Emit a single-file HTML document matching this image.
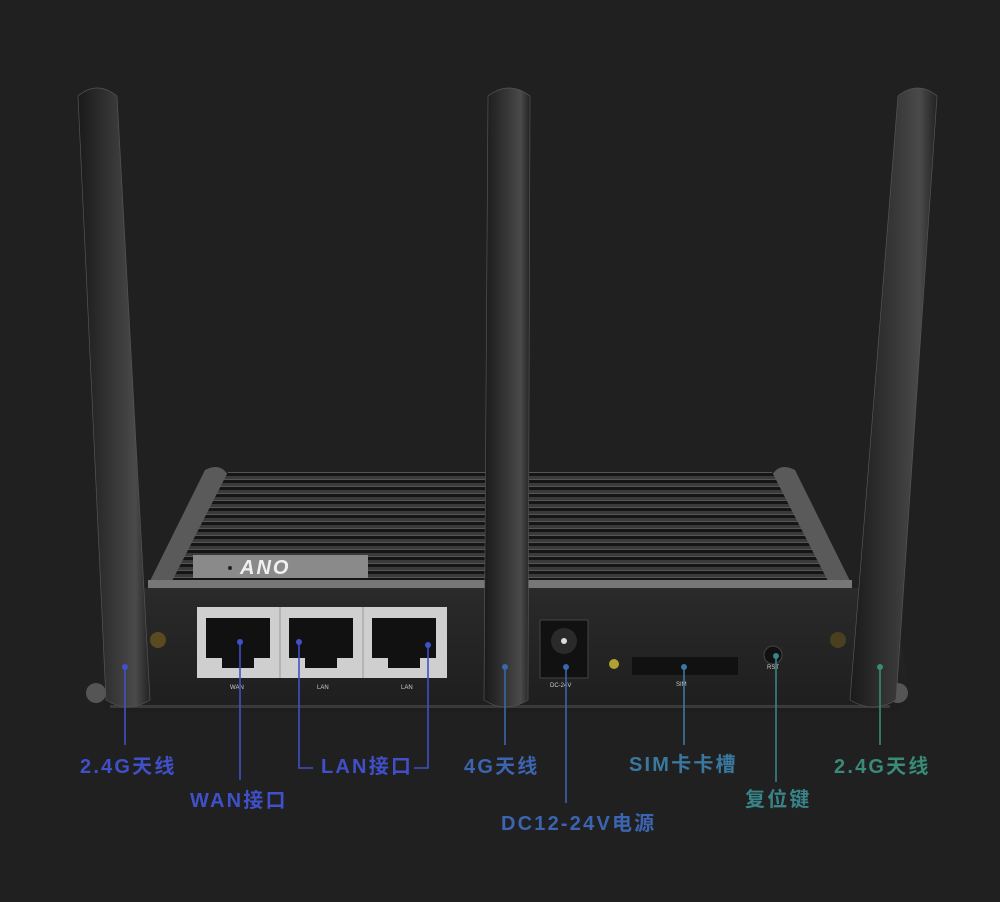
<!DOCTYPE html>
<html><head><meta charset="utf-8"><style>
html,body{margin:0;padding:0;background:#202020;}
svg{display:block}
text{font-family:"Liberation Sans","Noto Sans CJK SC",sans-serif;font-size:20px;letter-spacing:2.2px;font-weight:bold}
</style></head><body>
<svg width="1000" height="902" viewBox="0 0 1000 902" xmlns="http://www.w3.org/2000/svg">
<defs>
<linearGradient id="ant" x1="0" x2="1" y1="0" y2="0">
<stop offset="0" stop-color="#1a1a1a"/><stop offset="0.55" stop-color="#3a3a3a"/><stop offset="0.8" stop-color="#4a4a4a"/><stop offset="1" stop-color="#222"/>
</linearGradient>
<linearGradient id="panel" x1="0" x2="0" y1="0" y2="1">
<stop offset="0" stop-color="#2a2a2a"/><stop offset="1" stop-color="#1e1e1e"/>
</linearGradient>
<pattern id="ridge" width="10" height="7" patternUnits="userSpaceOnUse">
<rect width="10" height="7" fill="#151515"/><rect y="0" width="10" height="3" fill="#3a3a3a"/><rect y="3" width="10" height="1" fill="#555"/>
</pattern>
</defs>
<rect width="1000" height="902" fill="#202020"/>
<path d="M148 585 L205 470 Q220 462 228 475 L185 585 Z" fill="#5a5a5a"/>
<path d="M852 585 L795 470 Q780 462 772 475 L815 585 Z" fill="#5a5a5a"/>
<path d="M228 472 L772 472 L830 585 L170 585 Z" fill="url(#ridge)"/>
<rect x="193" y="555" width="175" height="23" fill="#8a8a8a"/>
<text x="240" y="574" fill="#f0f0f0" style="font-size:20px;letter-spacing:2px;font-style:italic">ANO</text>
<circle cx="230" cy="568" r="2" fill="#222"/>
<rect x="148" y="580" width="704" height="8" fill="#777"/>
<path d="M110 588 L890 588 L910 690 Q910 712 885 712 L120 712 Q98 712 98 690 Z" fill="url(#panel)"/>
<rect x="110" y="705" width="780" height="3" fill="#3a3a3a"/>
<circle cx="96" cy="693" r="10" fill="#555"/><circle cx="898" cy="693" r="10" fill="#555"/>
<circle cx="158" cy="640" r="8" fill="#5a4a20"/><circle cx="838" cy="640" r="8" fill="#4a4020"/>
<rect x="197" y="607" width="250" height="71" fill="#cfcfcf"/>
<line x1="280" y1="607" x2="280" y2="678" stroke="#999"/>
<line x1="363" y1="607" x2="363" y2="678" stroke="#999"/>
<g fill="#111">
<path d="M206 618 L270 618 L270 658 L254 658 L254 668 L222 668 L222 658 L206 658 Z"/>
<path d="M289 618 L353 618 L353 658 L337 658 L337 668 L305 668 L305 658 L289 658 Z"/>
<path d="M372 618 L436 618 L436 658 L420 658 L420 668 L388 668 L388 658 L372 658 Z"/>
</g>
<g fill="#ccc">
<text x="230" y="689" style="font-size:6px;letter-spacing:0;font-weight:normal">WAN</text>
<text x="317" y="689" style="font-size:6px;letter-spacing:0;font-weight:normal">LAN</text>
<text x="401" y="689" style="font-size:6px;letter-spacing:0;font-weight:normal">LAN</text>
<text x="550" y="687" style="font-size:6px;letter-spacing:0;font-weight:normal">DC-24V</text>
<text x="676" y="686" style="font-size:6px;letter-spacing:0;font-weight:normal">SIM</text>
<text x="767" y="669" style="font-size:6px;letter-spacing:0;font-weight:normal">RST</text>
</g>
<rect x="540" y="620" width="48" height="58" fill="#111" stroke="#444"/>
<circle cx="564" cy="641" r="13" fill="#2a2a2a"/><circle cx="564" cy="641" r="3" fill="#ddd"/>
<circle cx="614" cy="664" r="5" fill="#b0a030"/>
<rect x="632" y="657" width="106" height="18" fill="#111"/>
<circle cx="773" cy="655" r="9" fill="#111" stroke="#444"/>
<path d="M78 96 Q97 80 117 96 L150 700 Q128 714 106 700 Z" fill="url(#ant)" stroke="#555" stroke-width="0.7"/>
<path d="M488 96 Q509 80 530 96 L528 700 Q506 714 484 700 Z" fill="url(#ant)" stroke="#555" stroke-width="0.7"/>
<path d="M898 96 Q918 80 937 96 L896 700 Q873 714 850 700 Z" fill="url(#ant)" stroke="#555" stroke-width="0.7"/>
<g stroke-width="1.6" fill="none">
<line x1="125" y1="667" x2="125" y2="745" stroke="#4050c8"/>
<line x1="240" y1="642" x2="240" y2="780" stroke="#4050c8"/>
<polyline points="299,642 299,768 313,768" stroke="#4050c8"/>
<polyline points="428,645 428,768 414,768" stroke="#4050c8"/>
<line x1="505" y1="667" x2="505" y2="745" stroke="#3c64b0"/>
<line x1="566" y1="667" x2="566" y2="803" stroke="#3c64b0"/>
<line x1="684" y1="667" x2="684" y2="745" stroke="#3a78a0"/>
<line x1="776" y1="656" x2="776" y2="782" stroke="#388488"/>
<line x1="880" y1="667" x2="880" y2="745" stroke="#3a8a78"/>
</g>
<g>
<circle cx="125" cy="667" r="3" fill="#4050c8"/>
<circle cx="240" cy="642" r="3" fill="#4050c8"/>
<circle cx="299" cy="642" r="3" fill="#4050c8"/>
<circle cx="428" cy="645" r="3" fill="#4050c8"/>
<circle cx="505" cy="667" r="3" fill="#3c64b0"/>
<circle cx="566" cy="667" r="3" fill="#3c64b0"/>
<circle cx="684" cy="667" r="3" fill="#3a78a0"/>
<circle cx="776" cy="656" r="3" fill="#388488"/>
<circle cx="880" cy="667" r="3" fill="#3a8a78"/>
</g>
<text x="80" y="773" fill="#4050c8">2.4G天线</text>
<text x="190" y="807" fill="#4050c8">WAN接口</text>
<text x="321" y="773" fill="#4050c8">LAN接口</text>
<text x="464" y="773" fill="#3c64b0">4G天线</text>
<text x="501" y="830" fill="#3c64b0">DC12-24V电源</text>
<text x="629" y="771" fill="#3a78a0">SIM卡卡槽</text>
<text x="745" y="806" fill="#388488">复位键</text>
<text x="834" y="773" fill="#3a8a78">2.4G天线</text>
</svg>
</body></html>
